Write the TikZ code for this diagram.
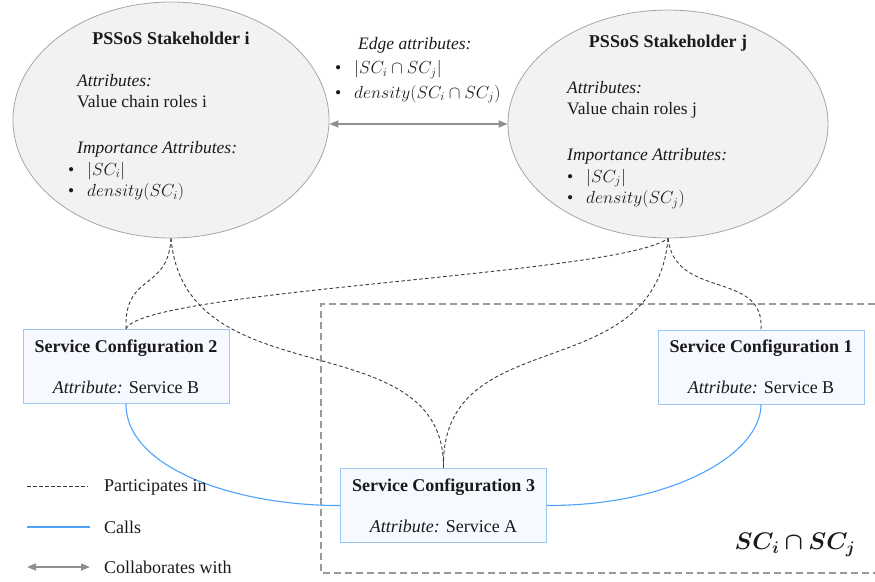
\RequirePackage{fix-cm}
\documentclass[tikz,border=0pt]{standalone}
\usepackage{fontspec}
\setmainfont{Liberation Serif}
\usepackage{bm}
\usetikzlibrary{arrows.meta,shapes.geometric}
\definecolor{ink}{HTML}{1A1A1A}
\definecolor{rim}{HTML}{A6A6A6}
\definecolor{oval}{HTML}{F2F2F2}
\definecolor{callblue}{HTML}{4DA3FF}
\definecolor{scrim}{HTML}{9DC6F5}
\definecolor{scfill}{HTML}{F6F9FF}
\definecolor{collab}{HTML}{8F8F8F}
\definecolor{part}{HTML}{3A3A3A}
\definecolor{boundgrey}{HTML}{9A9A9A}
\newcommand{\attrbullet}[2]{\hspace*{#1}\makebox[19pt][l]{\textbullet}#2}
\newcommand{\scbox}[5]{%
  \node[scnode] (#1) at (#2,#3)
       {\textbf{Service Configuration #4}\\[19pt]\textit{Attribute:} Service #5};}

\begin{document}
\begin{tikzpicture}[x=1pt,y=-1pt,text=ink,
    font=\fontsize{17.5}{21.5}\selectfont,
    stakeholder/.style={ellipse,draw=rim,fill=oval,line width=0.8pt,inner sep=0pt},
    titletx/.style={inner sep=0pt,font=\fontsize{18}{22}\selectfont\bfseries},
    bodytx/.style={anchor=north west,align=left,inner sep=0pt},
    scnode/.style={draw=scrim,fill=scfill,line width=0.9pt,inner sep=0pt,
                   minimum width=206pt,minimum height=74pt,align=center,
                   font=\fontsize{18}{22}\selectfont},
    participates/.style={draw=part,dash pattern=on 3.5pt off 2.5pt,line width=0.9pt},
    calls/.style={draw=callblue,line width=1.1pt},
    collabarrow/.style={draw=collab,line width=1.6pt,
                        {Triangle[length=9pt,width=7pt]}-{Triangle[length=9pt,width=7pt]}},
    boundary/.style={draw=boundgrey,dash pattern=on 7pt off 4pt,line width=1.1pt},
    legendtx/.style={anchor=west,inner sep=0pt,font=\fontsize{18}{22}\selectfont}]
  \useasboundingbox (0,0) rectangle (875,581);

  % shared configurations
  \draw[boundary] (875,304) -| (321,573) -- (875,573);
  \node[inner sep=0pt,font=\fontsize{24}{28}\selectfont] (scij) at (795,545)
       {$\bm{SC_i\cap SC_j}$};

  % stakeholders
  \node[stakeholder,minimum width=316pt,minimum height=236pt] (shi) at (171,120) {};
  \node[stakeholder,minimum width=320pt,minimum height=228pt] (shj) at (668,124) {};
  \node[titletx] (shititle) at (171,38) {PSSoS Stakeholder i};
  \node[titletx] (shjtitle) at (668,43) {PSSoS Stakeholder j};
  \node[bodytx] (shibody) at (77,74)
       {\textit{Attributes:}\\ Value chain roles i\\[24.5pt]
        \textit{Importance Attributes:}\\
        \attrbullet{-9pt}{$|SC_i|$}\\ \attrbullet{-9pt}{$density(SC_i)$}};
  \node[bodytx] (shjbody) at (567,81)
       {\textit{Attributes:}\\ Value chain roles j\\[24.5pt]
        \textit{Importance Attributes:}\\
        \attrbullet{0pt}{$|SC_j|$}\\ \attrbullet{0pt}{$density(SC_j)$}};
  \node[bodytx,font=\fontsize{17.5}{24.5}\selectfont] (edgeattr) at (335,37)
       {\hspace*{23pt}\textit{Edge attributes:}\\
        \attrbullet{0pt}{$|SC_i\cap SC_j|$}\\
        \attrbullet{0pt}{$density(SC_i\cap SC_j)$}};
  \draw[collabarrow] ([yshift=-4pt]shi.east) -- (shj.west);

  % service configurations
  \scbox{sc2}{126}{366.5}{2}{B}
  \scbox{sc1}{761}{367}{1}{B}
  \scbox{sc3}{443.5}{505.5}{3}{A}

  % participates in
  \draw[participates] (shi.south) .. controls (168,292) and (124,272) .. (sc2.north);
  \draw[participates] (shi.south) .. controls (185,400) and (445,320) .. (sc3.north);
  \draw[participates] (sc2.north) .. controls (140,290) and (620,275) .. (shj.south);
  \draw[participates] (shj.south) .. controls (655,390) and (440,320) .. (sc3.north);
  \draw[participates] (shj.south) .. controls (675,300) and (765,270) .. (sc1.north);

  % calls
  \draw[calls] (sc2.south) .. controls (126,470) and (240,506) .. (sc3.west);
  \draw[calls] (sc3.east) .. controls (670,506) and (761,455) .. (sc1.south);

  % legend
  \coordinate (lgpa) at (27,486);  \coordinate (lgpb) at (88,486);
  \coordinate (lgca) at (27,527);  \coordinate (lgcb) at (90,527);
  \coordinate (lgka) at (27,567);  \coordinate (lgkb) at (90,567);
  \draw[participates] (lgpa) -- (lgpb);
  \draw[calls] (lgca) -- (lgcb);
  \draw[collabarrow] (lgka) -- (lgkb);
  \node[legendtx] (lgp) at (104,487) {Participates in};
  \node[legendtx] (lgc) at (104,527) {Calls};
  \node[legendtx] (lgk) at (104,567) {Collaborates with};
\end{tikzpicture}
\end{document}
